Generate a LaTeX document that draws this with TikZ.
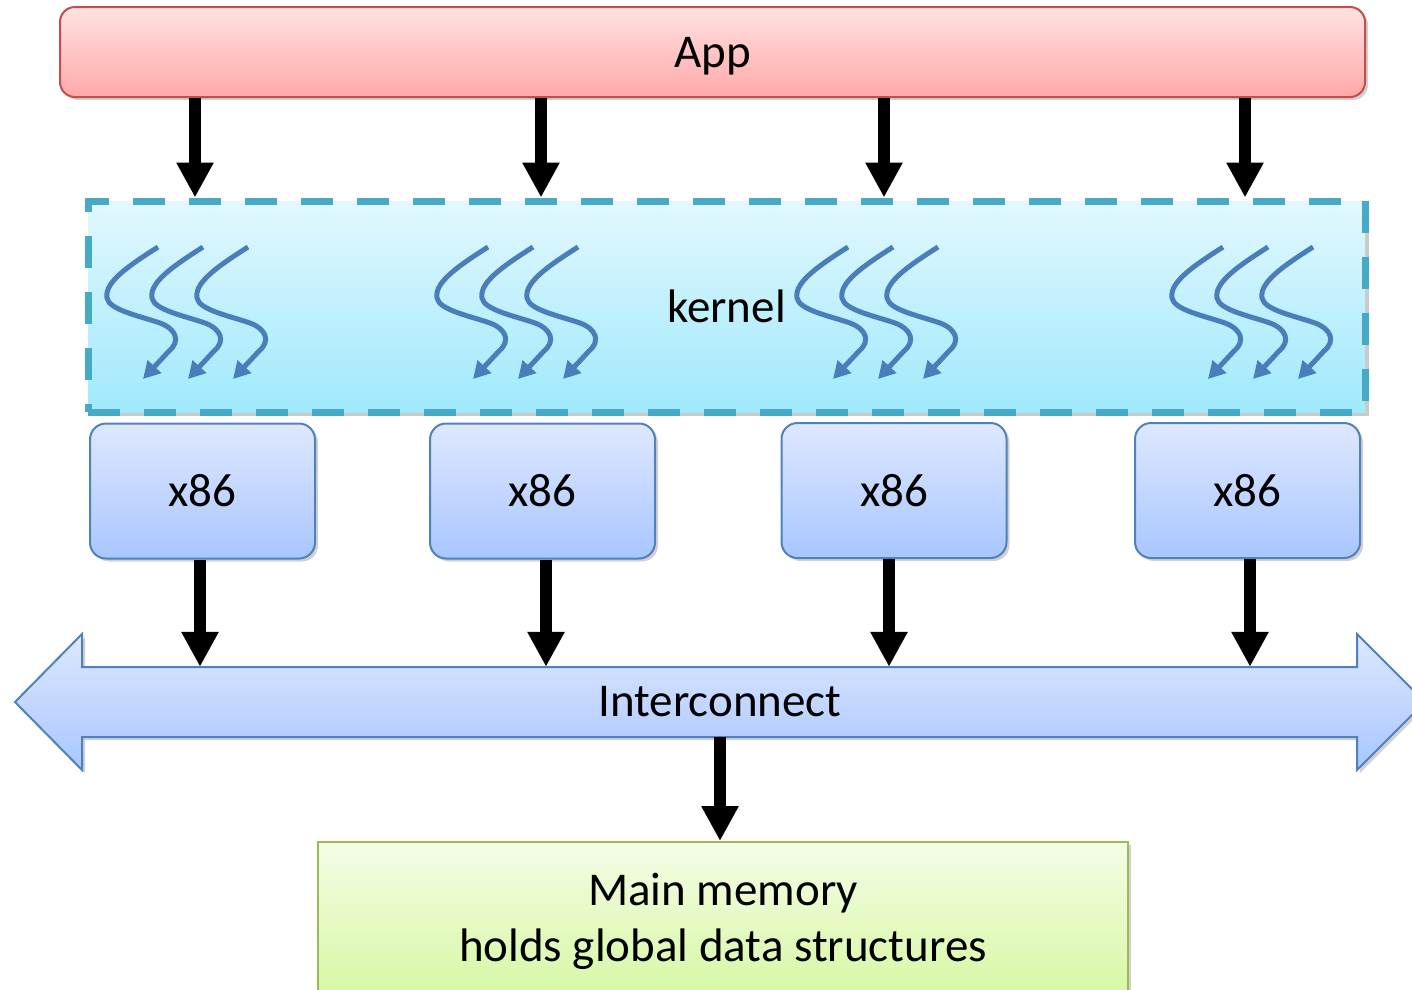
\documentclass[tikz,border=0pt]{standalone}
\usepackage{fontspec}
\setmainfont{Carlito}
\usetikzlibrary{arrows.meta,shadows}

\definecolor{apptop}{HTML}{FFE2E2}
\definecolor{appbot}{HTML}{FFA8A8}
\definecolor{appline}{HTML}{C0504D}
\definecolor{kertop}{HTML}{E2F8FE}
\definecolor{kerbot}{HTML}{A0E9FC}
\definecolor{kerline}{HTML}{46A9C5}
\definecolor{cputop}{HTML}{DEE8FF}
\definecolor{cpubot}{HTML}{A8C6FF}
\definecolor{cpuline}{HTML}{4F81BD}
\definecolor{memtop}{HTML}{F4FDE6}
\definecolor{membot}{HTML}{D6F7A2}
\definecolor{memline}{HTML}{9BBB59}
\definecolor{thread}{HTML}{4A7EBB}

\tikzset{
  softshadow/.style={drop shadow={shadow xshift=3pt, shadow yshift=-3pt, opacity=0.3, fill=black!60}},
  appbox/.style={draw=appline, line width=2pt, rounded corners=15pt,
    top color=apptop, bottom color=appbot, minimum width=1305pt,
    minimum height=90pt, inner sep=0pt, text depth=0pt, softshadow},
  kernelbox/.style={draw=kerline, line width=7pt, dash pattern=on 32pt off 24pt,
    top color=kertop, bottom color=kerbot, minimum width=1277pt,
    minimum height=211pt, inner sep=0pt,
    drop shadow={shadow xshift=4pt, shadow yshift=-4pt, opacity=0.35, fill=black!60}},
  cpubox/.style={draw=cpuline, line width=2pt, rounded corners=16pt,
    top color=cputop, bottom color=cpubot, minimum width=225pt,
    minimum height=135pt, inner sep=0pt, softshadow},
  membox/.style={draw=memline, line width=2pt, top color=memtop, bottom color=membot,
    minimum width=810pt, align=center, inner xsep=0pt, inner ysep=31pt,
    anchor=north, softshadow},
  busshape/.style={draw=cpuline, line width=2pt, top color=cputop, bottom color=cpubot,
    softshadow},
  bigarrow/.style={line width=12pt, -{Triangle[width=35pt,length=35pt]}},
  threadarrow/.style={draw=thread, line width=5pt, line join=round,
    -{Triangle[width=18pt,length=17pt]}},
}

\begin{document}
\begin{tikzpicture}[x=1pt, y=1pt, font=\fontsize{47}{56}\selectfont]
  \clip (0,0) rectangle (1412,-989);
  \useasboundingbox (0,0) rectangle (1412,-989);

  % application layer
  \node[appbox] (app) at (712.5,-52) {App};

  % kernel layer
  \node[kernelbox] (kernel) at (726.5,-306.5) {kernel};

  % threads running inside the kernel
  \foreach \gx in {0,330,690,1065}{
    \foreach \dx in {0,45,90}{
      \draw[threadarrow, shift={(\gx+\dx,0)}]
        (158,-247) .. controls (130,-265) and (104,-282) .. (107,-298)
        .. controls (109,-310) and (140,-316) .. (160,-323)
        .. controls (176,-329) and (181,-341) .. (169,-351)
        -- (143,-379);
    }
  }

  % processors
  \node[cpubox] (cpu1) at (202.5,-491) {x86};
  \node[cpubox] (cpu2) at (542.5,-491) {x86};
  \node[cpubox] (cpu3) at (894,-490.5) {x86};
  \node[cpubox] (cpu4) at (1247.5,-490.5) {x86};

  % interconnect (double-headed bus)
  \path[busshape] (15,-702) -- (82,-634) -- (82,-667) -- (1357,-667) -- (1357,-634)
    -- (1425,-702) -- (1357,-770) -- (1357,-737) -- (82,-737) -- (82,-770) -- cycle;
  \node[minimum width=1275pt, minimum height=70pt, inner sep=0pt] (bus) at (720,-702) {Interconnect};

  % main memory
  \node[membox] (mem) at (723,-841) {Main memory\\holds global data structures};

  % app -> kernel
  \coordinate (a1) at (195,0);
  \coordinate (a2) at (541,0);
  \coordinate (a3) at (884,0);
  \coordinate (a4) at (1245,0);
  \foreach \i in {1,...,4}{
    \draw[bigarrow] (app.south -| a\i) -- (kernel.north -| a\i);
  }

  % processors -> interconnect
  \coordinate (b1) at (200,0);
  \coordinate (b2) at (546,0);
  \coordinate (b3) at (889,0);
  \coordinate (b4) at (1250,0);
  \foreach \i in {1,...,4}{
    \draw[bigarrow] (cpu\i.south -| b\i) -- (bus.north -| b\i);
  }

  % interconnect -> memory
  \draw[bigarrow] (bus.south) -- (bus.south |- mem.north);
\end{tikzpicture}
\end{document}
